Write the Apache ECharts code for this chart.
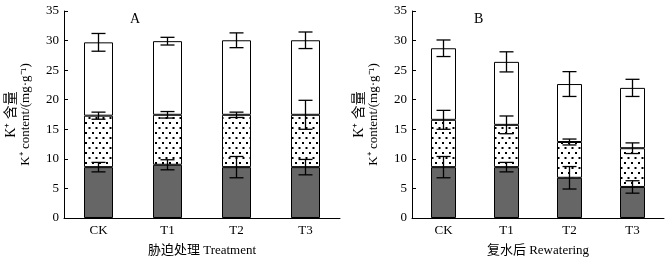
<!DOCTYPE html>
<html>
  <head>
    <meta charset="utf-8" />
    <title></title>
    <style type="text/css">
      html,
      body {
        margin: 0;
        width: 100%;
        height: 100%;
        background: #fff;
      }
      #main {
        width: 672px;
        height: 262px;
      }
    </style>
  </head>
  <body>
    <div id="main"></div>
    <script src="https://cdn.jsdelivr.net/npm/echarts@6/dist/echarts.min.js"></script>
    <script type="text/javascript">
      var categories = ["CK", "T1", "T2", "T3"];
      var yTicks = [0, 5, 10, 15, 20, 25, 30, 35];

      // 胁迫处理 (A): cumulative tops of each segment and their errors
      var aLevel1 = [8.6, 9.0, 8.6, 8.6];
      var aLevel2 = [17.3, 17.45, 17.45, 17.45];
      var aLevel3 = [29.7, 29.9, 30.05, 30.05];
      var aErr1 = [0.8, 0.85, 1.8, 1.3];
      var aErr2 = [0.6, 0.55, 0.45, 2.45];
      var aErr3 = [1.5, 0.65, 1.25, 1.4];

      // 复水后 (B)
      var bLevel1 = [8.6, 8.6, 6.8, 5.25];
      var bLevel2 = [16.6, 15.75, 12.85, 11.8];
      var bLevel3 = [28.7, 26.4, 22.65, 22.0];
      var bErr1 = [1.8, 0.8, 1.9, 1.05];
      var bErr2 = [1.6, 1.5, 0.5, 0.9];
      var bErr3 = [1.4, 1.7, 2.1, 1.45];

      var serif = "'Liberation Serif', 'Times New Roman', 'Noto Sans CJK SC', serif";

      // 点状填充
      var dots = document.createElement("canvas");
      dots.width = 7;
      dots.height = 10;
      var ctx = dots.getContext("2d");
      ctx.fillStyle = "#fff";
      ctx.fillRect(0, 0, 7, 10);
      ctx.fillStyle = "#000";
      ctx.fillRect(1, 2, 2, 2);
      ctx.fillRect(4.5, 7, 2, 2);

      function diff(a, b) {
        return a.map(function (v, i) {
          return +(v - (b ? b[i] : 0)).toFixed(2);
        });
      }

      function errData(level, err) {
        return level.map(function (v, i) {
          return [i, v, err[i]];
        });
      }

      function renderErr(params, api) {
        var x = api.value(0);
        var v = api.value(1);
        var e = api.value(2);
        var hi = api.coord([x, v + e]);
        var lo = api.coord([x, v - e]);
        var w = 7;
        var st = { stroke: "#000", lineWidth: 1.3 };
        return {
          type: "group",
          children: [
            { type: "line", shape: { x1: hi[0], y1: hi[1], x2: lo[0], y2: lo[1] }, style: st },
            { type: "line", shape: { x1: hi[0] - w, y1: hi[1], x2: hi[0] + w, y2: hi[1] }, style: st },
            { type: "line", shape: { x1: lo[0] - w, y1: lo[1], x2: lo[0] + w, y2: lo[1] }, style: st },
          ],
        };
      }

      function xAxisOf(idx, name) {
        return {
          type: "category",
          gridIndex: idx,
          data: categories,
          name: name,
          nameLocation: "middle",
          nameGap: 26,
          nameTextStyle: { fontFamily: serif, fontSize: 13, color: "#000" },
          axisLine: { lineStyle: { color: "#000", width: 1 } },
          axisTick: { inside: true, length: 4, lineStyle: { color: "#000" } },
          axisLabel: { fontFamily: serif, fontSize: 13, color: "#000", margin: 6 },
        };
      }

      function yAxisOf(idx) {
        return {
          type: "value",
          gridIndex: idx,
          min: 0,
          max: 35,
          interval: 5,
          name: "{a|K⁺ 含量}\n{b|K⁺ content/(mg·g⁻¹)}",
          nameLocation: "middle",
          nameRotate: 90,
          nameGap: 31,
          nameTextStyle: {
            color: "#000",
            rich: {
              a: { fontFamily: serif, fontSize: 14, color: "#000", lineHeight: 15 },
              b: { fontFamily: serif, fontSize: 13, color: "#000", lineHeight: 14 },
            },
          },
          axisLine: { show: true, lineStyle: { color: "#000", width: 1 } },
          axisTick: { show: true, inside: true, length: 4, lineStyle: { color: "#000" } },
          axisLabel: {
            fontFamily: serif,
            fontSize: 13,
            color: "#000",
            margin: 5,
            formatter: function (v) {
              return yTicks.indexOf(v) >= 0 ? v : "";
            },
          },
          splitLine: { show: false },
        };
      }

      function barSeries(idx, data, color, width) {
        return {
          type: "bar",
          xAxisIndex: idx,
          yAxisIndex: idx,
          stack: "s" + idx,
          barWidth: width,
          data: data,
          itemStyle: { color: color, borderColor: "#000", borderWidth: 1 },
          silent: true,
        };
      }

      function errSeries(idx, level, err) {
        return {
          type: "custom",
          xAxisIndex: idx,
          yAxisIndex: idx,
          renderItem: renderErr,
          data: errData(level, err),
          z: 10,
          silent: true,
        };
      }

      var pattern = { image: dots, repeat: "repeat" };

      var option = {
        backgroundColor: "#fff",
        animation: false,
        grid: [
          { left: 64, top: 11, width: 276, height: 208 },
          { left: 412, top: 11, width: 252, height: 208 },
        ],
        xAxis: [xAxisOf(0, "胁迫处理 Treatment"), xAxisOf(1, "复水后 Rewatering")],
        yAxis: [yAxisOf(0), yAxisOf(1)],
        graphic: [
          { type: "text", left: 130, top: 12, style: { text: "A", font: "14px " + serif, fill: "#000" } },
          { type: "text", left: 474, top: 12, style: { text: "B", font: "14px " + serif, fill: "#000" } },
        ],
        series: [
          barSeries(0, aLevel1, "#666666", 29),
          barSeries(0, diff(aLevel2, aLevel1), pattern, 29),
          barSeries(0, diff(aLevel3, aLevel2), "#ffffff", 29),
          errSeries(0, aLevel1, aErr1),
          errSeries(0, aLevel2, aErr2),
          errSeries(0, aLevel3, aErr3),
          barSeries(1, bLevel1, "#666666", 25),
          barSeries(1, diff(bLevel2, bLevel1), pattern, 25),
          barSeries(1, diff(bLevel3, bLevel2), "#ffffff", 25),
          errSeries(1, bLevel1, bErr1),
          errSeries(1, bLevel2, bErr2),
          errSeries(1, bLevel3, bErr3),
        ],
      };

      var myChart = echarts.init(document.getElementById("main"));
      myChart.setOption(option);
    </script>
  </body>
</html>
